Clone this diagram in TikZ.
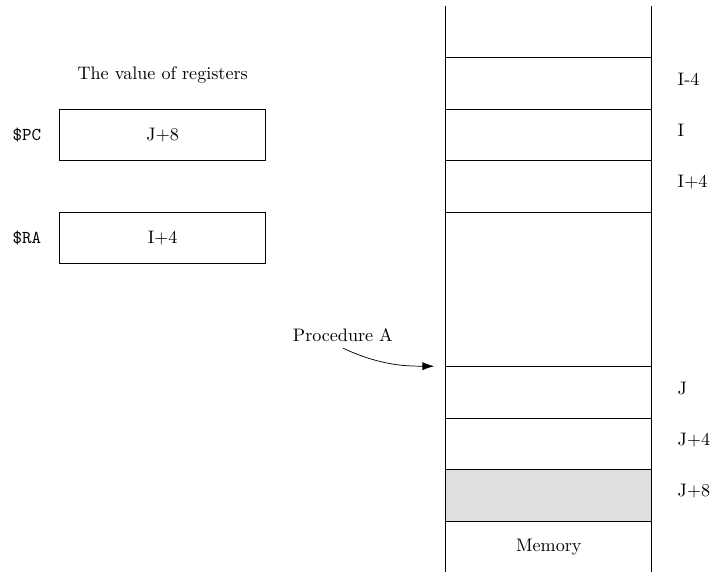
\documentclass[tikz,border=0pt]{standalone}
\usetikzlibrary{positioning,arrows.meta}

\begin{document}
\begin{tikzpicture}[
    cell/.style={draw,minimum width=4cm,minimum height=1cm,inner sep=0pt},
    reg/.style={draw,minimum width=4cm,minimum height=1cm},
    addr/.style={anchor=west}]
  \useasboundingbox (-8.66,-0.99) rectangle (5.17,10.12);

  % memory column
  \coordinate (mtl) at (0,10);
  \coordinate (mbl) at (0,-1);
  \coordinate (mtr) at (4,10);
  \coordinate (mbr) at (4,-1);
  \node[cell,fill=gray!25] (jpp) at (2,0.5) {};
  \node[addr] (jpp-l) at (4.38,0.58) {J+8};
  \foreach \y/\n/\t in {8/im/I-4,7/i/I,6/ip/I+4,2/j/J,1/jp/J+4}
  { \node[cell] (\n) at (2,\y+0.5) {};
    \node[addr] (\n-l) at (4.38,\y+0.58) {\t}; }
  \draw (mtl) -- (mbl);
  \draw (mtr) -- (mbr);
  \node (mem) at (2,-0.5) {Memory};

  % registers
  \node[reg] (pc) at (-5.5,7.5) {J+8};
  \node[reg] (ra) at (-5.5,5.5) {I+4};
  \node[left=0.23cm of pc,font=\ttfamily] (pc-l) {\$PC};
  \node[left=0.23cm of ra,font=\ttfamily] (ra-l) {\$RA};
  \node[above=0.38cm of pc] (title) {The value of registers};

  \node (proc) at (-2,3.61) {Procedure A};
  \draw[-{Latex[length=6.5pt,width=4.5pt]},shorten >=0.22cm]
    (proc.south) to[out=-25,in=180] (j.north west);
\end{tikzpicture}
\end{document}
